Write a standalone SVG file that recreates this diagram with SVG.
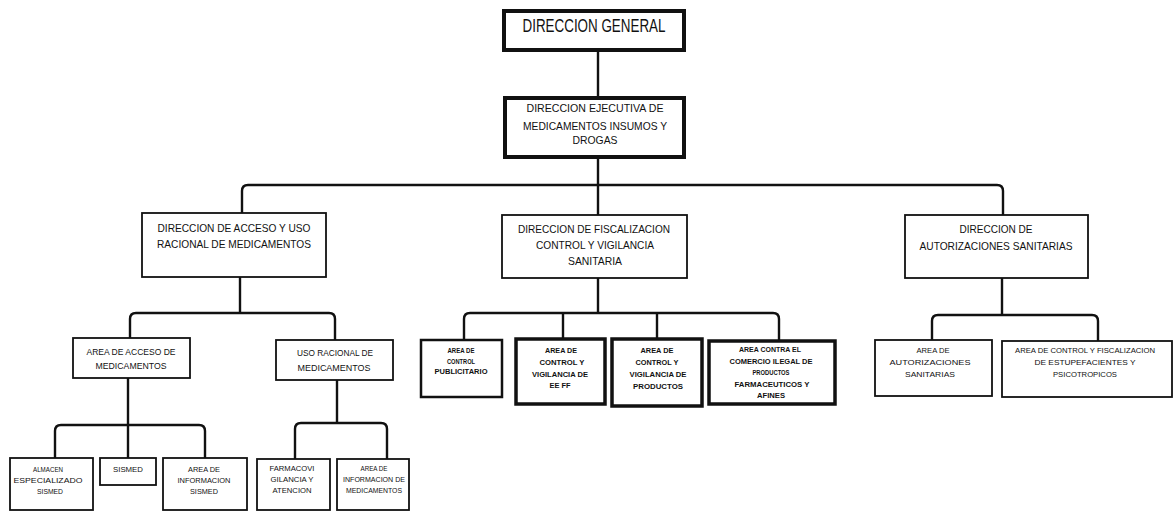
<svg xmlns="http://www.w3.org/2000/svg" width="1174" height="513" viewBox="0 0 1174 513">
<style>
text{font-family:"Liberation Sans",Arial,sans-serif;fill:#111;text-anchor:middle}
.box{fill:#fff;stroke:#111}
.b4{stroke-width:4}
.b3{stroke-width:3.5}
.b2{stroke-width:2.5}
.b1{stroke-width:1.8}
.con path{fill:none;stroke:#111;stroke-width:2.4;stroke-linejoin:round;stroke-linecap:butt}
.t16{font-size:17.5px}
.t10{font-size:10.5px}
.t8{font-size:8.5px}
.t7{font-size:7.5px}
.bold text{font-weight:bold}
</style>
<rect width="1174" height="513" fill="#fff"/>
<g class="con" id="connectors">
<path d="M598,50 V97"/>
<path d="M598,157 V215"/>
<path d="M242,213 V191 Q242,185 248,185 H997 Q1003,185 1003,191 V215"/>
<path d="M240,277 V313"/>
<path d="M130,338 V319 Q130,313 136,313 H329 Q335,313 335,319 V340"/>
<path d="M598,278 V313"/>
<path d="M464,340 V319 Q464,313 470,313 H773 Q779,313 779,319 V341"/>
<path d="M563,313 V339"/>
<path d="M657,313 V339"/>
<path d="M1002,278 V315"/>
<path d="M932,340 V321 Q932,315 938,315 H1092 Q1098,315 1098,321 V341"/>
<path d="M128,378 V458"/>
<path d="M55,458 V431 Q55,425 61,425 H199 Q205,425 205,431 V458"/>
<path d="M337,380 V423"/>
<path d="M295,459 V429 Q295,423 301,423 H381 Q387,423 387,429 V459"/>
</g>
<g id="n-direccion-general">
<rect class="box b4" x="504" y="11" width="180" height="39"/>
<text class="t16" x="594" y="32" textLength="143" lengthAdjust="spacingAndGlyphs">DIRECCION GENERAL</text>
</g>
<g id="n-direccion-ejecutiva">
<rect class="box b4" x="505" y="98" width="179" height="59"/>
<text class="t10" x="595" y="112" textLength="137" lengthAdjust="spacingAndGlyphs">DIRECCION EJECUTIVA DE</text>
<text class="t10" x="595" y="130" textLength="144" lengthAdjust="spacingAndGlyphs">MEDICAMENTOS INSUMOS Y</text>
<text class="t10" x="595" y="144" textLength="45" lengthAdjust="spacingAndGlyphs">DROGAS</text>
</g>
<g id="n-acceso-uso">
<rect class="box b1" x="142" y="213" width="184" height="64"/>
<text class="t10" x="234" y="232" textLength="153" lengthAdjust="spacingAndGlyphs">DIRECCION DE ACCESO Y USO</text>
<text class="t10" x="234" y="248" textLength="154" lengthAdjust="spacingAndGlyphs">RACIONAL DE MEDICAMENTOS</text>
</g>
<g id="n-fiscalizacion">
<rect class="box b1" x="502" y="215" width="185" height="63"/>
<text class="t10" x="594" y="233" textLength="152" lengthAdjust="spacingAndGlyphs">DIRECCION DE FISCALIZACION</text>
<text class="t10" x="595" y="249" textLength="118" lengthAdjust="spacingAndGlyphs">CONTROL Y VIGILANCIA</text>
<text class="t10" x="595" y="265" textLength="54" lengthAdjust="spacingAndGlyphs">SANITARIA</text>
</g>
<g id="n-autorizaciones">
<rect class="box b1" x="905" y="215" width="183" height="63"/>
<text class="t10" x="996" y="233" textLength="73" lengthAdjust="spacingAndGlyphs">DIRECCION DE</text>
<text class="t10" x="996" y="250" textLength="153" lengthAdjust="spacingAndGlyphs">AUTORIZACIONES SANITARIAS</text>
</g>
<g id="n-area-acceso">
<rect class="box b1" x="73" y="338" width="117" height="40"/>
<text class="t8" x="131" y="355" textLength="89" lengthAdjust="spacingAndGlyphs">AREA DE ACCESO DE</text>
<text class="t8" x="131" y="369" textLength="71" lengthAdjust="spacingAndGlyphs">MEDICAMENTOS</text>
</g>
<g id="n-uso-racional">
<rect class="box b1" x="276" y="340" width="117" height="40"/>
<text class="t8" x="335" y="356" textLength="76" lengthAdjust="spacingAndGlyphs">USO RACIONAL DE</text>
<text class="t8" x="334" y="371" textLength="73" lengthAdjust="spacingAndGlyphs">MEDICAMENTOS</text>
</g>
<g id="n-control-publicitario" class="bold">
<rect class="box b2" x="421" y="340" width="81" height="57"/>
<text class="t7" x="461" y="353" textLength="27" lengthAdjust="spacingAndGlyphs">AREA DE</text>
<text class="t7" x="461" y="364" textLength="28" lengthAdjust="spacingAndGlyphs">CONTROL</text>
<text class="t7" x="461" y="374" textLength="53" lengthAdjust="spacingAndGlyphs">PUBLICITARIO</text>
</g>
<g id="n-control-eeff" class="bold">
<rect class="box b3" x="516" y="339" width="89" height="65"/>
<text class="t7" x="561" y="353" textLength="32" lengthAdjust="spacingAndGlyphs">AREA DE</text>
<text class="t7" x="562" y="365" textLength="45" lengthAdjust="spacingAndGlyphs">CONTROL Y</text>
<text class="t7" x="560" y="377" textLength="56" lengthAdjust="spacingAndGlyphs">VIGILANCIA DE</text>
<text class="t7" x="560" y="388" textLength="21" lengthAdjust="spacingAndGlyphs">EE FF</text>
</g>
<g id="n-control-productos" class="bold">
<rect class="box b3" x="612" y="339" width="90" height="67"/>
<text class="t7" x="657" y="353" textLength="33" lengthAdjust="spacingAndGlyphs">AREA DE</text>
<text class="t7" x="657" y="365" textLength="43" lengthAdjust="spacingAndGlyphs">CONTROL Y</text>
<text class="t7" x="658" y="377" textLength="57" lengthAdjust="spacingAndGlyphs">VIGILANCIA DE</text>
<text class="t7" x="658" y="389" textLength="50" lengthAdjust="spacingAndGlyphs">PRODUCTOS</text>
</g>
<g id="n-comercio-ilegal" class="bold">
<rect class="box b3" x="709" y="341" width="126" height="63"/>
<text class="t7" x="770" y="352" textLength="62" lengthAdjust="spacingAndGlyphs">AREA CONTRA EL</text>
<text class="t7" x="771" y="364" textLength="83" lengthAdjust="spacingAndGlyphs">COMERCIO ILEGAL DE</text>
<text class="t7" x="771" y="375" textLength="37" lengthAdjust="spacingAndGlyphs">PRODUCTOS</text>
<text class="t7" x="772" y="387" textLength="75" lengthAdjust="spacingAndGlyphs">FARMACEUTICOS Y</text>
<text class="t7" x="771" y="398" textLength="28" lengthAdjust="spacingAndGlyphs">AFINES</text>
</g>
<g id="n-area-autorizaciones">
<rect class="box b1" x="875" y="340" width="117" height="56"/>
<text class="t7" x="933" y="353" textLength="33" lengthAdjust="spacingAndGlyphs">AREA DE</text>
<text class="t7" x="930" y="365" textLength="81" lengthAdjust="spacingAndGlyphs">AUTORIZACIONES</text>
<text class="t7" x="930" y="377" textLength="50" lengthAdjust="spacingAndGlyphs">SANITARIAS</text>
</g>
<g id="n-estupefacientes">
<rect class="box b1" x="1002" y="341" width="170" height="56"/>
<text class="t7" x="1085" y="353" textLength="140" lengthAdjust="spacingAndGlyphs">AREA DE CONTROL Y FISCALIZACION</text>
<text class="t7" x="1085" y="365" textLength="101" lengthAdjust="spacingAndGlyphs">DE ESTUPEFACIENTES Y</text>
<text class="t7" x="1085" y="377" textLength="64" lengthAdjust="spacingAndGlyphs">PSICOTROPICOS</text>
</g>
<g id="n-almacen">
<rect class="box b1" x="10" y="458" width="83" height="52"/>
<text class="t7" x="48" y="472" textLength="30" lengthAdjust="spacingAndGlyphs">ALMACEN</text>
<text class="t7" x="48" y="483" textLength="69" lengthAdjust="spacingAndGlyphs">ESPECIALIZADO</text>
<text class="t7" x="50" y="494" textLength="26" lengthAdjust="spacingAndGlyphs">SISMED</text>
</g>
<g id="n-sismed">
<rect class="box b1" x="100" y="458" width="56" height="27"/>
<text class="t7" x="128" y="472" textLength="30" lengthAdjust="spacingAndGlyphs">SISMED</text>
</g>
<g id="n-info-sismed">
<rect class="box b1" x="163" y="458" width="84" height="52"/>
<text class="t7" x="204" y="472" textLength="32" lengthAdjust="spacingAndGlyphs">AREA DE</text>
<text class="t7" x="204" y="483" textLength="53" lengthAdjust="spacingAndGlyphs">INFORMACION</text>
<text class="t7" x="204" y="494" textLength="28" lengthAdjust="spacingAndGlyphs">SISMED</text>
</g>
<g id="n-farmacovigilancia">
<rect class="box b1" x="257" y="459" width="73" height="51"/>
<text class="t7" x="292" y="471" textLength="45" lengthAdjust="spacingAndGlyphs">FARMACOVI</text>
<text class="t7" x="292" y="482" textLength="43" lengthAdjust="spacingAndGlyphs">GILANCIA Y</text>
<text class="t7" x="292" y="493" textLength="39" lengthAdjust="spacingAndGlyphs">ATENCION</text>
</g>
<g id="n-info-medicamentos">
<rect class="box b1" x="337" y="459" width="72" height="51"/>
<text class="t7" x="374" y="471" textLength="27" lengthAdjust="spacingAndGlyphs">AREA DE</text>
<text class="t7" x="374" y="482" textLength="62" lengthAdjust="spacingAndGlyphs">INFORMACION DE</text>
<text class="t7" x="374" y="493" textLength="56" lengthAdjust="spacingAndGlyphs">MEDICAMENTOS</text>
</g>
</svg>
